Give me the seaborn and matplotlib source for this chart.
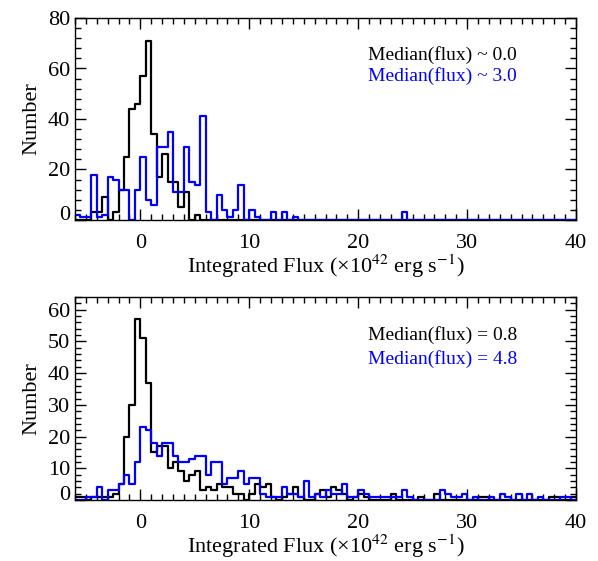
import numpy as np
import pandas as pd
import matplotlib
matplotlib.use("Agg")
import matplotlib.pyplot as plt
import matplotlib.transforms as mtransforms
import seaborn as sns
from matplotlib.ticker import MultipleLocator

# ---------------- data ----------------
bin_lo = -6.0
bin_width = 0.5
n_bins = 92

top_black = [0, 0, 0, 3, 3, 9, 0, 3, 12, 25, 44, 46, 57, 71, 34, 17, 26, 15, 15, 5,
             11, 0, 2] + [0] * 69
top_blue = [2, 1, 1, 18, 1, 2, 17, 16, 12, 12, 0, 12, 25, 8, 6, 29, 29, 35, 11, 11,
            29, 15, 14, 41, 3, 0, 10, 4, 1, 4, 14, 0, 4, 1, 0, 0, 3, 0, 3, 0,
            1, 0, 0, 0, 0, 0, 0, 0, 0, 0, 0, 0, 0, 0, 0, 0, 0, 0, 0, 0,
            3] + [0] * 31

bot_black = [1, 1, 0, 1, 1, 1, 1, 2, 5, 20,
             30, 57, 51, 37, 15, 17, 17, 10, 12, 9,
             6, 8, 9, 3, 4, 3, 5, 4, 4, 2,
             2, 0, 2, 5, 4, 5, 1, 0, 1, 2,
             4, 1, 0, 0, 2, 3, 1, 4, 3, 2,
             0, 1, 2, 1, 0, 0, 0, 0, 2, 0,
             0, 0, 0, 1, 0, 0, 2, 0, 0, 0,
             0, 0, 0, 0, 1, 1, 0, 0, 0, 0,
             0, 0, 0, 0, 0, 0, 0, 1, 1, 0,
             0, 1]
bot_blue = [0, 0, 1, 1, 4, 0, 3, 3, 5, 8,
            5, 12, 23, 22, 18, 14, 18, 18, 14, 12,
            12, 13, 14, 14, 8, 12, 12, 5, 7, 7,
            9, 5, 7, 7, 2, 1, 1, 1, 4, 2,
            2, 1, 6, 1, 2, 1, 3, 2, 2, 5,
            1, 1, 3, 2, 1, 1, 1, 1, 1, 1,
            3, 1, 0, 0, 0, 0, 0, 3, 2, 1,
            1, 2, 0, 1, 0, 0, 1, 0, 2, 1,
            0, 2, 0, 2, 0, 1, 0, 0, 0, 1,
            1, 0]

top_text = ["Median(flux) ~ 0.0", "Median(flux) ~ 3.0"]
bot_text = ["Median(flux) = 0.8", "Median(flux) = 4.8"]
xlabel = "Integrated Flux (\u00d710$^{42}$ erg s$^{-1}$)"
ylabel = "Number"

# ---------------- style ----------------
plt.rcParams["font.family"] = ["Liberation Serif", "DejaVu Serif"]
plt.rcParams["mathtext.fontset"] = "stix"

edges = bin_lo + bin_width * np.arange(n_bins + 1)
centers = edges[:-1] + bin_width / 2

fig = plt.figure(figsize=(5.98, 5.61), dpi=100)
ax1 = fig.add_axes([75 / 598, 1 - 220 / 561, 501 / 598, 202 / 561])
ax2 = fig.add_axes([75 / 598, 1 - 500 / 561, 501 / 598, 203 / 561])


def draw(ax, black, blue, texts, ylim, ymaj, ymin, text_y):
    for counts, col in ((black, "black"), (blue, "#0000ff")):
        df = pd.DataFrame({"x": centers, "w": np.asarray(counts, dtype=float)})
        sns.histplot(data=df, x="x", weights="w", bins=list(edges),
                     element="step", fill=False, color=col, linewidth=1.6, ax=ax)
    ax.set_xlim(-6, 40)
    ax.set_ylim(*ylim)
    ax.xaxis.set_major_locator(MultipleLocator(10))
    ax.xaxis.set_minor_locator(MultipleLocator(1))
    yt = np.arange(0, ylim[1] + 0.01, ymaj)
    ax.set_yticks(yt)
    ax.yaxis.set_minor_locator(MultipleLocator(ymin))
    ax.tick_params(which="both", direction="in", top=True, right=True,
                   labelsize=16, width=1)
    ax.tick_params(axis="x", which="major", pad=10)
    ax.tick_params(which="major", length=8)
    ax.tick_params(which="minor", length=4)
    for s in ax.spines.values():
        s.set_linewidth(1)
    ax.set_xlabel(xlabel, fontsize=16, labelpad=0)
    ax.set_ylabel(ylabel, fontsize=16, labelpad=5)
    # lift the bottom "0" label off the axis edge
    zero_tick = ax.yaxis.get_major_ticks(len(yt))[0]
    off = mtransforms.ScaledTranslation(0, 5 / 72, fig.dpi_scale_trans)
    zero_tick.label1.set_transform(zero_tick.label1.get_transform() + off)
    ax.text(0.585, text_y[0], texts[0], transform=ax.transAxes, color="black",
            fontsize=14, va="center")
    ax.text(0.585, text_y[1], texts[1], transform=ax.transAxes, color="#0000ff",
            fontsize=14, va="center")


draw(ax1, top_black, top_blue, top_text, (0, 80), 20, 4, (0.815, 0.712))
draw(ax2, bot_black, bot_blue, bot_text, (0, 64), 10, 2, (0.813, 0.695))

fig.savefig("out.png", dpi=100)
